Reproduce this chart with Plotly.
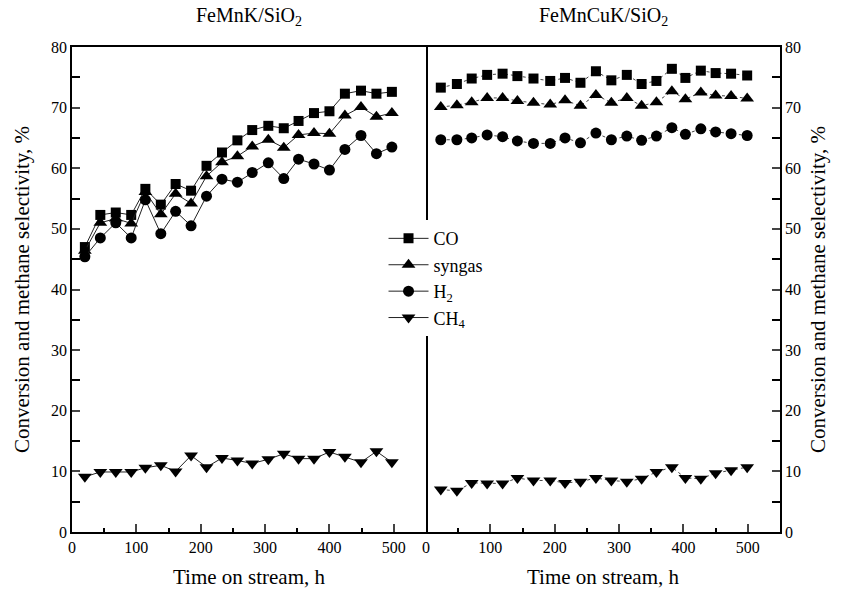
import plotly.graph_objects as go

# ---- data ----
t_left = [20, 44, 68, 92, 114, 138, 161, 185, 209, 233, 257, 280, 305, 329, 352, 376, 400, 424, 449, 473, 497]
co_left = [47.0, 52.3, 52.7, 52.3, 56.6, 54.0, 57.4, 56.3, 60.4, 62.6, 64.6, 66.3, 67.0, 66.6, 67.8, 69.1, 69.4, 72.3, 72.8, 72.3, 72.6]
syn_left = [46.4, 51.0, 51.7, 50.9, 56.1, 52.4, 55.8, 54.2, 58.7, 61.0, 62.0, 63.6, 64.7, 63.4, 65.5, 65.8, 65.7, 68.7, 70.1, 68.5, 69.1]
h2_left = [45.4, 48.5, 51.0, 48.5, 54.8, 49.2, 52.9, 50.5, 55.4, 58.2, 57.7, 59.3, 60.9, 58.3, 61.5, 60.7, 59.7, 63.1, 65.4, 62.4, 63.5]
ch4_left = [9.1, 9.9, 9.9, 9.9, 10.6, 11.0, 10.0, 12.6, 10.7, 12.2, 11.8, 11.3, 12.0, 12.9, 12.1, 12.1, 13.2, 12.4, 11.5, 13.3, 11.5]

t_right = [23, 48, 71, 95, 119, 142, 167, 193, 216, 240, 264, 288, 312, 335, 358, 382, 403, 427, 450, 474, 499]
co_right = [73.3, 73.9, 74.8, 75.4, 75.6, 75.2, 74.8, 74.4, 74.9, 74.1, 76.0, 74.5, 75.4, 73.9, 74.4, 76.4, 74.9, 76.1, 75.7, 75.6, 75.3]
syn_right = [70.1, 70.4, 70.9, 71.6, 71.6, 71.1, 70.8, 70.5, 71.2, 70.3, 72.1, 70.8, 71.6, 70.3, 70.9, 72.7, 71.4, 72.5, 72.0, 71.9, 71.5]
h2_right = [64.7, 64.7, 65.0, 65.5, 65.2, 64.5, 64.1, 64.1, 65.0, 64.2, 65.8, 64.7, 65.3, 64.6, 65.3, 66.7, 65.6, 66.5, 66.0, 65.7, 65.4]
ch4_right = [7.0, 6.8, 8.1, 8.0, 8.0, 8.9, 8.5, 8.5, 8.1, 8.3, 8.9, 8.5, 8.3, 8.8, 9.9, 10.7, 8.9, 8.8, 9.7, 10.2, 10.7]

series_names = ["CO", "syngas", "H<sub>2</sub>", "CH<sub>4</sub>"]
symbols = ["square", "triangle-up", "circle", "triangle-down"]
sizes = [10, 12, 11, 12]

panel_titles = ["FeMnK/SiO<sub>2</sub>", "FeMnCuK/SiO<sub>2</sub>"]
x_title = "Time on stream, h"
y_title = "Conversion and methane selectivity, %"

FONT = "Liberation Serif, Times New Roman, serif"

fig = go.Figure()
left_sets = [co_left, syn_left, h2_left, ch4_left]
right_sets = [co_right, syn_right, h2_right, ch4_right]
for name, sym, sz, yl, yr in zip(series_names, symbols, sizes, left_sets, right_sets):
    fig.add_trace(go.Scatter(x=t_left, y=yl, mode="lines+markers", name=name,
                             line=dict(color="#222", width=1),
                             marker=dict(symbol=sym, size=sz, color="black"),
                             xaxis="x", yaxis="y", showlegend=True))
    fig.add_trace(go.Scatter(x=t_right, y=yr, mode="lines+markers", name=name,
                             line=dict(color="#444", width=1, dash="dot"),
                             marker=dict(symbol=sym, size=sz, color="black"),
                             xaxis="x2", yaxis="y2", showlegend=False))

def xaxis_opts():
    return dict(range=[0, 550], tick0=0, dtick=100, ticks="inside", ticklen=8, tickwidth=1.5,
                showline=True, linewidth=1.5, linecolor="black", mirror=True,
                showgrid=False, zeroline=False,
                tickfont=dict(family=FONT, size=16, color="black"),
                minor=dict(dtick=50, ticks="inside", ticklen=4, tickwidth=1.5, tickcolor="black"),
                title=dict(text=x_title, font=dict(family=FONT, size=21, color="black"), standoff=14))

def yaxis_opts(mirror, standoff):
    return dict(range=[0, 80], tick0=0, dtick=10, ticks="inside", ticklen=8, tickwidth=1.5,
                showline=True, linewidth=1.5, linecolor="black", mirror=mirror,
                showgrid=False, zeroline=False,
                tickfont=dict(family=FONT, size=16, color="black"),
                minor=dict(dtick=5, ticks="inside", ticklen=8, tickwidth=1.5, tickcolor="black"),
                title=dict(text=y_title, font=dict(family=FONT, size=21, color="black"), standoff=standoff))

fig.update_layout(
    width=844, height=596,
    margin=dict(l=72, r=64, t=47, b=64),
    paper_bgcolor="white", plot_bgcolor="white",
    font=dict(family=FONT, size=16, color="black"),
    xaxis=dict(domain=[0, 0.5], anchor="y", **xaxis_opts()),
    xaxis2=dict(domain=[0.5, 1], anchor="y2", **xaxis_opts()),
    yaxis=dict(anchor="x", side="left", **yaxis_opts(True, 16)),
    yaxis2=dict(anchor="x2", side="right", **yaxis_opts(False, 10)),
    legend=dict(x=0.44, y=0.643, xanchor="left", yanchor="top",
                bgcolor="white", borderwidth=0, itemwidth=40,
                font=dict(family=FONT, size=18, color="black"),
                tracegroupgap=0),
    showlegend=True,
)

for i, txt in enumerate(panel_titles):
    fig.add_annotation(text=txt, x=0.25 + 0.5 * i, y=1.062, xref="paper", yref="paper",
                       xanchor="center", yanchor="middle", showarrow=False,
                       font=dict(family=FONT, size=20, color="black"))

fig.write_html("out.html")
